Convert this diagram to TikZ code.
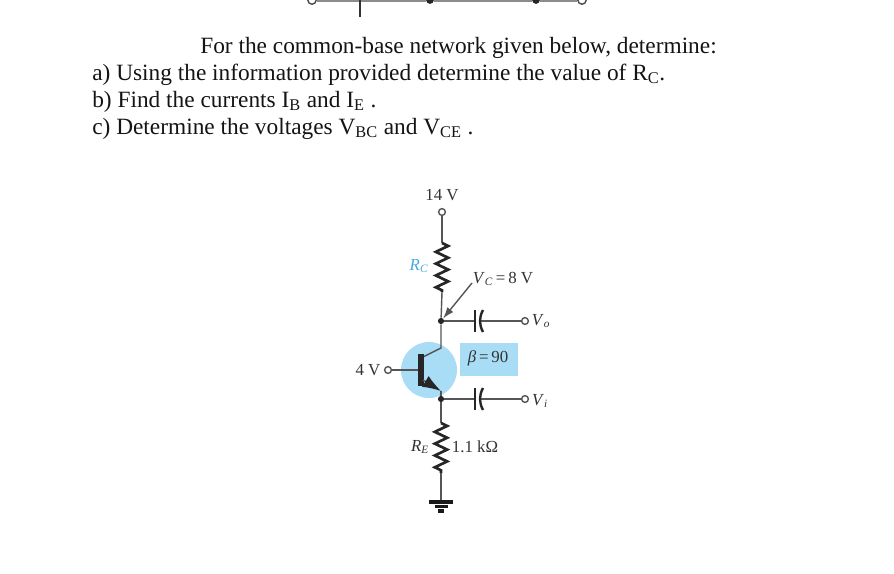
\documentclass[tikz,border=0pt]{standalone}
\usepackage{fontspec}
\setmainfont{Liberation Serif}
\usetikzlibrary{calc,decorations.pathmorphing,arrows.meta}
\definecolor{cktblue}{RGB}{168,221,245}
\definecolor{rlabel}{RGB}{70,170,225}
\definecolor{wiregray}{RGB}{85,85,85}
\newcommand{\lowcap}[1]{\textsubscript{#1}}
\tikzset{
    question/.style={anchor=base west,inner sep=0pt,font=\fontsize{16.6pt}{20pt}\selectfont,text=black!92},
    cktlabel/.style={inner sep=0pt,font=\fontsize{12pt}{14pt}\selectfont,text=black!80},
    wire/.style={line width=1pt,wiregray},
    terminal/.style={circle,draw=wiregray,fill=white,line width=1pt,inner sep=0pt,minimum size=4.8pt},
    junction/.style={circle,fill=black!85,inner sep=0pt,minimum size=4.4pt},
    resistor/.style={line width=1.9pt,black!85,decorate,decoration={zigzag,segment length=8.4pt,amplitude=4.4pt}},
    plate/.style={line width=1.7pt,black!85},
    gndbar/.style={line width=2.6pt,black!90},
}
\begin{document}
\begin{tikzpicture}[x=0.025cm,y=-0.025cm]
    \useasboundingbox (0,0) rectangle (894,573);
    \clip (0,0) rectangle (894,573);
    \fill[white] (0,0) rectangle (894,573);
    % cut-off circuit at the top
    \node[terminal,minimum size=6pt,draw=black!70] (topl) at (312,0) {};
    \node[terminal,minimum size=6pt,draw=black!70] (topr) at (582,0) {};
    \node[junction,minimum size=5.5pt] (topa) at (430,0) {};
    \node[junction,minimum size=5.5pt] (topb) at (536,0) {};
    \coordinate (tops) at (360,0);
    \coordinate (stub) at (360,17);
    \draw[line width=2.4pt,black!45] (topl) -- (topa) -- (topb) -- (topr);
    \draw[line width=1pt,black!80] (tops) -- (stub);
    % question text
    \node[question] (qhead) at (200,53) {For the common-base network given below, determine:};
    \node[question] (qa) at (92,80) {a) Using the information provided determine the value of R\lowcap{C}.};
    \node[question] (qb) at (92,107) {b) Find the currents I\lowcap{B} and I\lowcap{E} .};
    \node[question] (qc) at (92,134) {c) Determine the voltages V\lowcap{BC} and V\lowcap{CE} .};
    % shaded parts
    \fill[cktblue] (429,370) circle (28);
    \fill[cktblue] (460,343) rectangle (518,376);
    % nodes of the network
    \node[terminal] (vcc) at (442,212) {};
    \coordinate (rct) at (442,243);
    \coordinate (rcb) at (442,292);
    \node[junction] (col) at (441,321) {};
    \coordinate (colup) at (441,348);
    \coordinate (colb) at (421,358);
    \coordinate (capat) at (475,321);
    \coordinate (capab) at (480,321);
    \node[terminal] (vo) at (525,321) {};
    \coordinate (bar) at (421,370);
    \node[terminal] (vb) at (388,370) {};
    \coordinate (emb) at (423,380);
    \coordinate (emup) at (441,391);
    \node[junction] (em) at (441,399) {};
    \coordinate (capbt) at (475,399);
    \coordinate (capbb) at (480,399);
    \node[terminal] (vi) at (525,399) {};
    \coordinate (ret) at (441,423);
    \coordinate (reb) at (441,473);
    \coordinate (gnd) at (441,502);
    \coordinate (vctail) at (472,283);
    % connectors
    \draw[wire] (vcc) -- (rct);
    \draw[resistor] (rct) -- (rcb);
    \draw[wire] (rcb) -- (col) -- (colup) -- (colb);
    \draw[wire] (col) -- (capat);
    \draw[wire] (capab) -- (vo);
    \draw[plate] ($(capat)+(0,-11)$) -- ($(capat)+(0,11)$);
    \draw[plate] ($(capab)+(3,-11)$) to[bend right=28] ($(capab)+(3,11)$);
    \draw[wire] (vb) -- (bar);
    \fill[black!85] ($(bar)+(-2.8,-16)$) rectangle ($(bar)+(2.8,16)$);
    \draw[wire,-{Latex[length=13pt,width=9pt,black!85]}] (emb) -- (emup);
    \draw[wire] (emup) -- (em);
    \draw[wire] (em) -- (capbt);
    \draw[wire] (capbb) -- (vi);
    \draw[plate] ($(capbt)+(0,-11)$) -- ($(capbt)+(0,11)$);
    \draw[plate] ($(capbb)+(3,-11)$) to[bend right=28] ($(capbb)+(3,11)$);
    \draw[wire] (em) -- (ret);
    \draw[resistor] (ret) -- (reb);
    \draw[wire] (reb) -- (gnd);
    \draw[gndbar] ($(gnd)+(-12,0)$) -- ($(gnd)+(12,0)$);
    \draw[gndbar] ($(gnd)+(-6.5,4.5)$) -- ($(gnd)+(6.5,4.5)$);
    \draw[gndbar] ($(gnd)+(-3,9)$) -- ($(gnd)+(3,9)$);
    \draw[wire,-{Latex[length=8pt,width=5.5pt]}] (vctail) -- (col);
    % labels
    \node[cktlabel] (lvcc) at (442,195) {14 V};
    \node[cktlabel,text=rlabel] (lrc) at (419,266) {\textit{R}\lowcap{\textit{C}}};
    \node[cktlabel] (lvc) at (503,279) {\textit{V}\lowcap{\textit{C}}\,=\,8 V};
    \node[cktlabel] (lvo) at (541,321) {\textit{V}\lowcap{\textit{o}}};
    \node[cktlabel] (lbeta) at (488,358) {\textit{β}\,=\,90};
    \node[cktlabel] (lvb) at (368,370) {4 V};
    \node[cktlabel] (lvi) at (540,401) {\textit{V}\lowcap{\textit{i}}};
    \node[cktlabel] (lre) at (420,447) {\textit{R}\lowcap{\textit{E}}};
    \node[cktlabel] (lrev) at (475,447) {1.1 kΩ};
\end{tikzpicture}
\end{document}
